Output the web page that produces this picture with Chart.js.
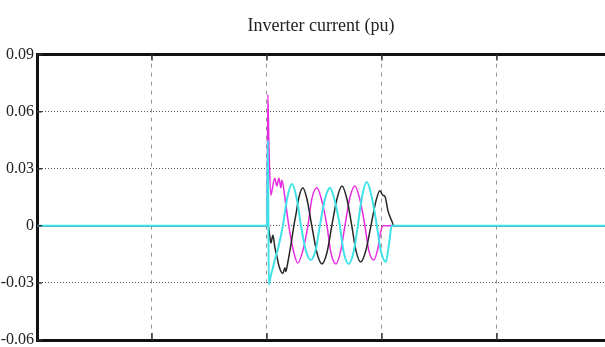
<!DOCTYPE html>
<html>
<head>
<meta charset="utf-8">
<script src="https://cdn.jsdelivr.net/npm/chart.js@4/dist/chart.umd.min.js"></script>
<style>
html, body { margin: 0; padding: 0; background: #fff; }
#wrap { width: 605px; height: 347px; }
</style>
</head>
<body>
<div id="wrap"><canvas id="current-chart"></canvas></div>
<script>
// time in ms, plot is cut off at the right edge
const xMax = 247.0;

// phase currents (pu)
const cyanT = [0, 100.0, 100.4, 100.8, 101.7, 102.6, 103.4, 104.8, 106.9, 108.7,
    110.8, 113.0, 114.8, 116.9, 119.1, 121.3, 123.0, 125.2, 127.4, 129.5,
    131.7, 133.4, 135.6, 137.8, 139.5, 141.3, 143.4, 145.6, 147.8, 149.5,
    151.7, 153.0, 154.3, 247.0];
const cyanI = [0, 0, 0.045, -0.031, -0.026, -0.022, -0.018, -0.012, 0, 0.014,
    0.022, 0.014, 0, -0.013, -0.018, -0.012, 0, 0.014, 0.020, 0.013,
    0, -0.014, -0.020, -0.013, 0, 0.015, 0.023, 0.015, 0, -0.013,
    -0.019, -0.010, 0, 0];

const blackT = [0, 100.0, 100.4, 101.3, 101.7, 102.6, 103.4, 104.3, 105.2, 106.1,
    106.9, 107.8, 108.2, 109.1, 110.4, 111.7, 112.6, 113.9, 115.6, 117.4,
    119.5, 121.7, 123.9, 126.1, 128.2, 130.4, 132.6, 134.8, 136.9, 138.7,
    140.8, 143.0, 145.2, 147.4, 149.1, 150.4, 151.3, 152.6, 154.3, 155.2,
    247.0];
const blackI = [0, 0, 0.001, -0.006, -0.009, -0.005, -0.011, -0.016, -0.021, -0.024,
    -0.025, -0.022, -0.024, -0.019, -0.010, 0, 0.006, 0.015, 0.020, 0.014,
    0, -0.014, -0.020, -0.014, 0, 0.014, 0.021, 0.014, 0, -0.013,
    -0.019, -0.013, 0, 0.013, 0.0185, 0.016, 0.0155, 0.008, 0.0025, 0,
    0];

const magT = [0, 100.0, 100.4, 100.8, 101.7, 102.1, 103.4, 104.3, 105.2, 106.1,
    106.5, 107.8, 109.5, 111.7, 113.4, 115.6, 117.8, 119.5, 121.7, 123.9,
    126.1, 127.8, 130.0, 132.1, 133.9, 136.1, 138.2, 140.4, 142.6, 144.3,
    146.5, 148.2, 149.5, 150.4, 247.0];
const magI = [0, 0, 0.069, 0.045, 0.016, 0.018, 0.025, 0.021, 0.025, 0.020,
    0.024, 0.015, 0, -0.014, -0.0195, -0.013, 0, 0.014, 0.020, 0.013,
    0, -0.014, -0.020, -0.013, 0, 0.015, 0.021, 0.014, 0, -0.013,
    -0.018, -0.012, -0.003, 0, 0];

function pairs(t, v) {
    return t.map((x, i) => ({ x: x, y: v[i] }));
}

const serif = 'Liberation Serif, Times New Roman, serif';

// small tick marks pointing into the plot, like the original
const innerTicks = {
    id: 'innerTicks',
    afterDraw(chart) {
        const { ctx, chartArea, scales } = chart;
        ctx.save();
        ctx.strokeStyle = '#333';
        ctx.lineWidth = 1.5;
        ctx.beginPath();
        scales.x.ticks.forEach(t => {
            const px = scales.x.getPixelForValue(t.value);
            if (px <= chartArea.left + 2) return;
            ctx.moveTo(px, chartArea.bottom);
            ctx.lineTo(px, chartArea.bottom - 7);
            ctx.moveTo(px, chartArea.top);
            ctx.lineTo(px, chartArea.top + 6);
        });
        scales.y.ticks.forEach(t => {
            const py = scales.y.getPixelForValue(t.value);
            ctx.moveTo(chartArea.left, py);
            ctx.lineTo(chartArea.left + 5, py);
        });
        ctx.stroke();
        ctx.restore();
    }
};

const ctx = document.getElementById('current-chart').getContext('2d');
const chart = new Chart(ctx, {
    type: 'line',
    data: {
        datasets: [{
            label: 'ia',
            data: pairs(cyanT, cyanI),
            borderColor: '#3fe2e8',
            borderWidth: 2,
            pointRadius: 0,
            cubicInterpolationMode: 'monotone'
        },
        {
            label: 'ib',
            data: pairs(blackT, blackI),
            borderColor: '#262626',
            borderWidth: 1.5,
            pointRadius: 0,
            cubicInterpolationMode: 'monotone'
        },
        {
            label: 'ic',
            data: pairs(magT, magI),
            borderColor: '#e62ce2',
            borderWidth: 1.5,
            pointRadius: 0,
            cubicInterpolationMode: 'monotone'
        }]
    },
    options: {
        responsive: true,
        maintainAspectRatio: false,
        animation: false,
        layout: { padding: 0 },
        plugins: {
            legend: { display: false },
            tooltip: { enabled: false }
        },
        scales: {
            x: {
                type: 'linear',
                min: 0,
                max: xMax,
                ticks: { display: false, stepSize: 50, includeBounds: false },
                grid: { color: '#959595', lineWidth: 1, drawTicks: false },
                border: { display: true, color: '#111', width: 3, dash: [4, 5] }
            },
            x2: {
                type: 'linear',
                position: 'top',
                min: 0,
                max: xMax,
                ticks: { display: false },
                grid: { display: false, drawTicks: false },
                border: { display: true, color: '#111', width: 3 },
                title: {
                    display: true,
                    text: 'Inverter current (pu)',
                    color: '#222',
                    font: { family: serif, size: 18 },
                    padding: { top: 15, bottom: 18 }
                }
            },
            y: {
                min: -0.06,
                max: 0.09,
                afterFit(scale) { scale.width = 37; },
                ticks: {
                    stepSize: 0.03,
                    padding: 3,
                    color: '#222',
                    font: { family: serif, size: 16, lineHeight: 0.5 },
                    callback: v => Math.abs(v) < 1e-9 ? '0' : v.toFixed(2)
                },
                grid: { color: '#555', lineWidth: 1, drawTicks: false },
                border: { display: true, color: '#111', width: 3, dash: [1, 2] }
            }
        }
    },
    plugins: [innerTicks]
});
</script>
</body>
</html>
